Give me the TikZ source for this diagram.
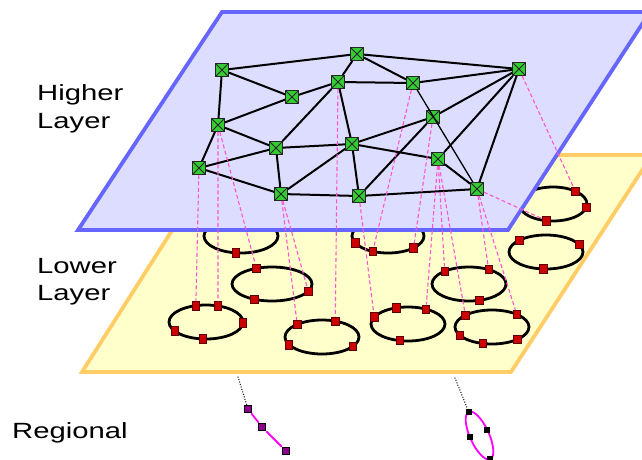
\documentclass[tikz,border=0pt]{standalone}
\usepackage{fontspec}
\setmainfont{Liberation Sans}
\usetikzlibrary{calc}
\definecolor{yfill}{RGB}{255,255,204}
\definecolor{yedge}{RGB}{255,204,102}
\definecolor{bfill}{RGB}{221,221,255}
\definecolor{bedge}{RGB}{102,102,255}
\definecolor{hgreen}{RGB}{51,204,51}
\definecolor{lred}{RGB}{204,0,0}
\definecolor{pinkline}{RGB}{255,85,204}
\definecolor{magline}{RGB}{255,0,255}
\begin{document}
\begin{tikzpicture}[x=1pt,y=-1pt,
  plane/.style={line width=3.8pt, line join=miter},
  link/.style={line width=2pt, black},
  ring/.style={line width=2.8pt, black},
  hnode/.style={draw=black!85, line width=0.8pt, fill=hgreen, minimum size=13pt,
    inner sep=0pt, path picture={\draw[line width=0.9pt]
      (path picture bounding box.north west) -- (path picture bounding box.south east)
      (path picture bounding box.north east) -- (path picture bounding box.south west);}},
  lnode/.style={draw=lred!45!black, line width=0.7pt, fill=lred, minimum width=7.5pt,
    minimum height=8.5pt, inner sep=0pt},
  map/.style={draw=pinkline, line width=1.1pt, dash pattern=on 4pt off 2.5pt},
  mag/.style={draw=magline, line width=1.8pt},
  dots/.style={draw=black!85, line width=1.5pt, line cap=round, dash pattern=on 0pt off 2.6pt},
  rnode/.style={draw=black, line width=1.5pt, fill=magline!55!black, minimum size=7pt, inner sep=0pt},
  qnode/.style={fill=black, minimum size=6pt, inner sep=0pt},
  lab/.style={anchor=base west, inner sep=0pt, font=\fontsize{22}{26}\selectfont}]
\useasboundingbox (0,0) rectangle (642,459);
\clip (0,0) rectangle (642,459);

% lower layer plane
\draw[plane, draw=yedge, fill=yfill] (82,372) -- (511,372) -- (652,155) -- (220,155) -- cycle;

% regional groups on the lower layer
\foreach \n/\cx/\cy/\rx in {1/241/236/37, 2/272/284/40, 3/206/322/37, 4/322/337/37,
    5/388/236/36, 6/469/284/37, 7/546/252/37, 8/553/204/34, 9/408/324/37, 10/492/327/37}{
  \coordinate (e\n) at (\cx,\cy);
  \draw[ring] (e\n) ellipse [x radius=\rx, y radius=17];
}

% higher layer plane
\draw[plane, draw=bedge, fill=bfill] (78,230) -- (508,230) -- (650,12) -- (222,12) -- cycle;

% members of the regional groups
\foreach \e/\rx/\a/\t in {1/37/98/a,
    2/40/-113/a, 2/40/25/b, 2/40/116/c,
    3/37/-106/a, 3/37/-71/b, 3/37/3/c, 3/37/148/d, 3/37/95/e,
    4/37/-132/a, 4/37/-69/b, 4/37/153/c, 4/37/33/d,
    5/36/156/a, 5/36/115/b, 5/36/45/c,
    6/37/-131/a, 6/37/-58/b, 6/37/74/c,
    7/37/-136/a, 7/37/-26/b, 7/37/94/c,
    8/34/-49/a, 8/34/11/b, 8/34/101/c,
    9/37/-156/a, 9/37/-108/b, 9/37/-61/c, 9/37/103/d,
    10/37/-136/a, 10/37/-48/b, 10/37/151/c, 10/37/104/d, 10/37/47/e}{
  \node[lnode] (s\e\t) at ($(e\e)+({\rx*cos(\a)},{17*sin(\a)})$) {};
}

% higher layer overlay nodes
\node[hnode] (nA) at (222,70) {};
\node[hnode] (nB) at (292,97) {};
\node[hnode] (nC) at (338,82) {};
\node[hnode] (nD) at (357,54) {};
\node[hnode] (nE) at (218,125) {};
\node[hnode] (nF) at (276,148) {};
\node[hnode] (nG) at (352,144) {};
\node[hnode] (nH) at (199,168) {};
\node[hnode] (nI) at (281,194) {};
\node[hnode] (nJ) at (359,196) {};
\node[hnode] (nK) at (413,83) {};
\node[hnode] (nL) at (519,69) {};
\node[hnode] (nM) at (433,117) {};
\node[hnode] (nN) at (438,159) {};
\node[hnode] (nO) at (477,189) {};

% overlay links
\foreach \u/\v in {A/D, D/L, A/B, A/E, B/C, C/D, D/K, C/K, K/L, C/F, C/G, E/B,
    E/F, E/H, H/F, H/I, F/G, F/I, I/J, I/G, G/J, G/M, G/N, J/M, J/O,
    M/L, N/L, O/L, N/O}{
  \draw[link] (n\u) -- (n\v);
}
\draw[link, line width=1.3pt] (nK) -- (nO);

% mapping between the layers
\foreach \u/\v in {H/3a, E/3b, E/2a, I/2b, I/4a, C/4b, K/5b, M/5c, J/9a,
    N/9c, N/6a, N/10a, O/6b, O/10b, O/8c, L/8a}{
  \draw[map] (n\u) -- (s\v);
}

% regional level
\coordinate (dl) at (238,377);
\coordinate (dr) at (455,378);
\node[rnode] (r1) at (248,409) {};
\node[rnode] (r2) at (262,427) {};
\node[rnode] (r3) at (286,451) {};
\draw[mag] (r1) -- (r2) -- (r3);
\draw[dots] (dl) -- (r1);
\begin{scope}[shift={(479.5,435.5)}, rotate=-65.5]
  \draw[mag] (0,0) ellipse [x radius=26, y radius=9.5];
  \node[qnode] (q1) at (180:26 and 9.5) {};
  \node[qnode] (q2) at (95:26 and 9.5) {};
  \node[qnode] (q3) at (265:26 and 9.5) {};
  \node[qnode] (q4) at (0:26 and 9.5) {};
\end{scope}
\draw[dots] (dr) -- (q1);

% labels
\node[lab] (hl1) at (37,100) {\scalebox{1.33}[1]{Higher}};
\node[lab] (hl2) at (37,128) {\scalebox{1.33}[1]{Layer}};
\node[lab] (ll1) at (37,273) {\scalebox{1.33}[1]{Lower}};
\node[lab] (ll2) at (37,300) {\scalebox{1.33}[1]{Layer}};
\node[lab] (rl) at (12,438) {\scalebox{1.33}[1]{Regional}};
\end{tikzpicture}
\end{document}
